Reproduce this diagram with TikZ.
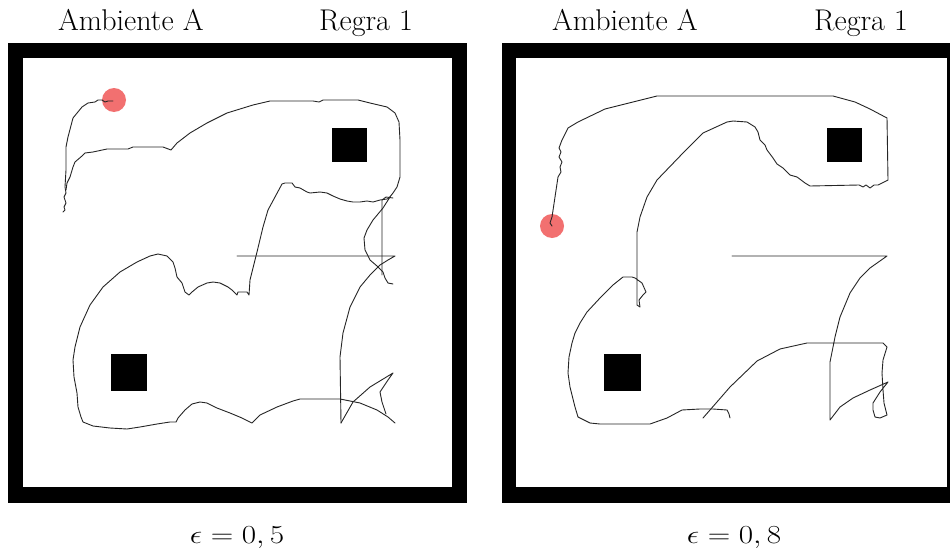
\documentclass[tikz,border=0pt]{standalone}
\usepackage{fix-cm}
\definecolor{robot}{RGB}{242,112,112}
\tikzset{
  wall/.style={fill=black},
  floor/.style={fill=white},
  obstacle/.style={fill=black},
  robotdot/.style={fill=robot},
  track/.style={draw=black!85, line width=0.9pt, line join=round, line cap=round},
  title/.style={inner sep=0pt, font=\fontsize{30}{36}\selectfont},
  caption/.style={inner sep=0pt, font=\fontsize{26}{31}\selectfont, xscale=1.2, transform shape},
}
\begin{document}
\begin{tikzpicture}[x=1pt,y=-1pt]
\useasboundingbox (0,0) rectangle (950,554);
\clip (0,0) rectangle (950,554);
% ---------- left environment ----------
\fill[wall] (8,43) rectangle (467,503);
\fill[floor] (23,58) rectangle (452,487);
\fill[obstacle] (332,128) rectangle (367,162);
\fill[obstacle] (111,354) rectangle (147,391);
\fill[robotdot] (114,100) circle (12);
\draw[track] (113,101) -- (108,101) -- (105,102) -- (102,100) -- (98,100) -- (95,102) -- (88,103) -- (82,107) -- (73,118) -- (68,137) -- (66,147) -- (66,170) -- (65,187) -- (66,193) -- (64,197) -- (66,203) -- (64,207) -- (65,210) -- (63,212);
\draw[track] (66,190) -- (67,183) -- (70,177) -- (73,167) -- (75,162) -- (82,156) -- (85,153) -- (93,152) -- (107,149) -- (128,149) -- (133,147) -- (163,147) -- (171,150) -- (177,143) -- (190,133) -- (207,123) -- (227,113) -- (253,105) -- (270,101) -- (313,101) -- (319,102) -- (323,100) -- (358,100) -- (370,103) -- (387,107) -- (395,113) -- (399,122) -- (400,140) -- (400,177) -- (397,187) -- (393,193) -- (389,198) -- (387,199) -- (380,200) -- (373,202) -- (367,201) -- (360,202) -- (353,202) -- (347,201) -- (340,199) -- (333,196) -- (327,193) -- (320,192) -- (310,193) -- (307,192) -- (300,188) -- (295,187) -- (292,183) -- (285,183) -- (282,184) -- (275,197) -- (268,210) -- (263,227) -- (257,252) -- (250,280) -- (249,295) -- (247,292) -- (242,292) -- (238,292) -- (237,295) -- (235,293) -- (232,290) -- (228,287) -- (220,283) -- (213,282) -- (207,283) -- (198,287) -- (192,292) -- (189,295) -- (185,292) -- (182,283) -- (177,277) -- (175,268) -- (173,262) -- (167,256) -- (158,254) -- (150,256) -- (137,262) -- (120,272) -- (103,287) -- (90,305) -- (80,327) -- (75,347) -- (73,360) -- (74,377) -- (77,393) -- (78,407) -- (81,417) -- (83,422) -- (93,426) -- (110,428) -- (127,429) -- (140,427) -- (157,424) -- (170,422) -- (176,422) -- (178,418) -- (185,410) -- (192,404) -- (200,402) -- (207,403) -- (217,408) -- (230,413) -- (242,418) -- (250,422) -- (252,423) -- (260,415) -- (277,407) -- (293,401) -- (300,399) -- (340,399) -- (360,403) -- (377,410) -- (388,417) -- (395,423);
\draw[track] (341,423) -- (340,357) -- (343,333) -- (350,307) -- (360,287) -- (370,275) -- (380,265) -- (388,260) -- (395,256) -- (237,256);
\draw[track] (341,423) -- (353,402) -- (370,387) -- (393,373) -- (388,380) -- (380,392) -- (382,402) -- (386,414);
\draw[track] (382,275) -- (382,200) -- (386,197) -- (393,198);
\draw[track] (390,197) -- (383,208) -- (373,220) -- (367,230) -- (364,238) -- (365,250) -- (370,260) -- (377,266) -- (383,272) -- (385,278) -- (388,283) -- (393,284);
% ---------- right environment ----------
\fill[wall] (502,43) rectangle (962,503);
\fill[floor] (516,58) rectangle (947,487);
\fill[obstacle] (827,128) rectangle (862,162);
\fill[obstacle] (604,354) rectangle (641,391);
\fill[robotdot] (552,226) circle (12);
\draw[track] (552,226) -- (550,223) -- (552,217) -- (555,197) -- (558,177) -- (561,172) -- (560,167) -- (562,162) -- (559,157) -- (561,152) -- (559,148) -- (562,140) -- (568,128) -- (578,122) -- (605,109) -- (657,96) -- (833,96) -- (855,102) -- (870,109) -- (887,118) -- (888,180) -- (878,185) -- (874,185) -- (870,188) -- (866,185) -- (863,187) -- (859,185) -- (810,186) -- (805,183) -- (797,177) -- (790,175) -- (783,168) -- (777,164) -- (773,158) -- (767,150) -- (765,145) -- (760,140) -- (758,132) -- (755,127) -- (747,122) -- (733,121) -- (727,122) -- (703,133) -- (683,153) -- (657,180) -- (647,197) -- (640,217) -- (637,232) -- (637,298) -- (637,305) -- (640,307) -- (639,300) -- (643,295) -- (646,292) -- (642,283) -- (635,278) -- (632,277) -- (623,277) -- (613,285) -- (600,298) -- (587,312) -- (580,323) -- (575,333) -- (572,343) -- (569,357) -- (568,373) -- (570,387) -- (575,407) -- (578,417) -- (590,423) -- (600,424) -- (650,424) -- (667,418) -- (682,410) -- (700,409) -- (713,409) -- (727,410) -- (729,414) -- (730,418);
\draw[track] (703,418) -- (710,410) -- (730,387) -- (757,361) -- (780,349) -- (807,343) -- (883,343) -- (887,347) -- (883,360) -- (882,373) -- (883,390) -- (884,403) -- (887,415) -- (880,418) -- (875,417) -- (873,410) -- (873,403) -- (880,392) -- (888,382) -- (870,390) -- (853,398) -- (840,407) -- (830,420) -- (830,362) -- (835,337) -- (840,317) -- (850,293) -- (860,278) -- (870,268) -- (887,256) -- (732,256);
% ---------- texts ----------
\node[title, anchor=base west] (envL) at (58,30) {Ambiente A};
\node[title, anchor=base east] (ruleL) at (413,30) {Regra 1};
\node[title, anchor=base west] (envR) at (552,30) {Ambiente A};
\node[title, anchor=base east] (ruleR) at (908,30) {Regra 1};
\node[caption, anchor=base] (epsL) at (237,543) {$\epsilon=0,5$};
\node[caption, anchor=base] (epsR) at (734,543) {$\epsilon=0,8$};
\end{tikzpicture}
\end{document}
